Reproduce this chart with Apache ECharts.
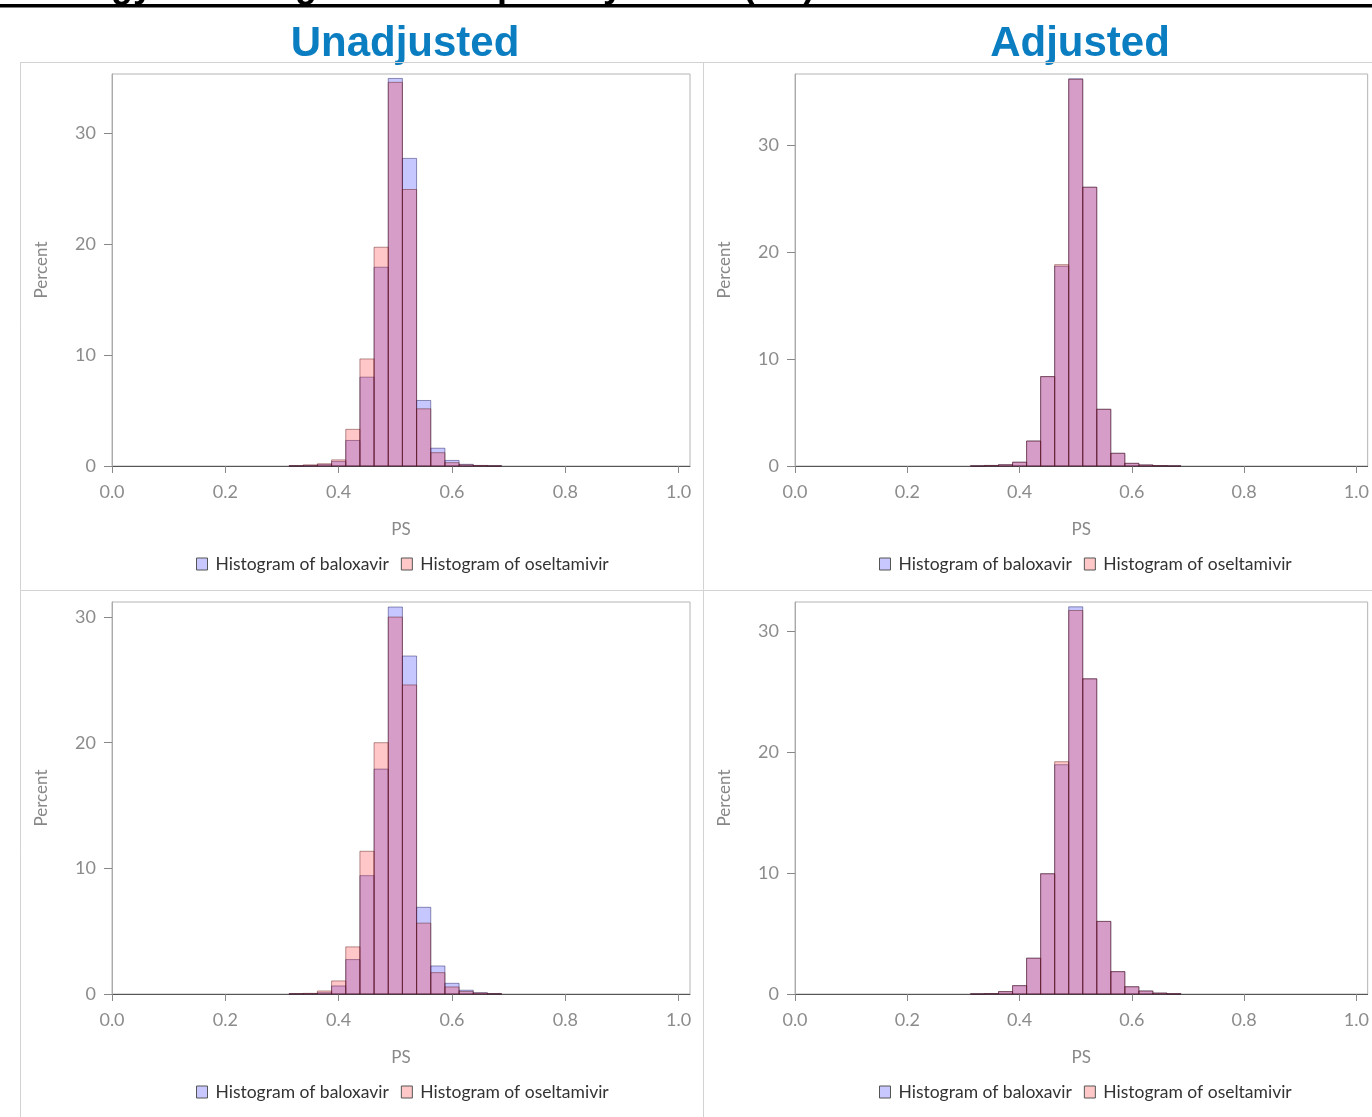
<!DOCTYPE html>
<html>
<head>
<meta charset="utf-8">
<script src="https://cdn.jsdelivr.net/npm/echarts@6/dist/echarts.min.js"></script>
<style>
html,body{margin:0;padding:0;background:#fff;}
#chart{width:1372px;height:1117px;}
</style>
</head>
<body>
<div id="chart"></div>
<script>
// ---- data ----
const binCenters = [0.3, 0.325, 0.35, 0.375, 0.4, 0.425, 0.45, 0.475, 0.5, 0.525, 0.55, 0.575, 0.6, 0.625, 0.65, 0.675, 0.7];
const xTicks = [0, 0.2, 0.4, 0.6, 0.8, 1.0];
const yTicks = [0, 10, 20, 30];
const seriesNames = ['Histogram of baloxavir', 'Histogram of oseltamivir'];
const columnTitles = ['Unadjusted', 'Adjusted'];

// Model 1 (top row)
const m1UnadjBaloxavir   = [0, 0.02, 0.05, 0.12, 0.40, 2.30, 8.00, 17.90, 34.90, 27.70, 5.90, 1.60, 0.50, 0.15, 0.05, 0.02, 0];
const m1UnadjOseltamivir = [0, 0.03, 0.10, 0.20, 0.55, 3.30, 9.64, 19.70, 34.55, 24.90, 5.15, 1.20, 0.30, 0.10, 0.04, 0.01, 0];
const m1AdjBaloxavir     = [0, 0.01, 0.05, 0.12, 0.35, 2.34, 8.37, 18.70, 36.25, 26.10, 5.31, 1.19, 0.25, 0.10, 0.04, 0.01, 0];
const m1AdjOseltamivir   = [0, 0.01, 0.05, 0.12, 0.36, 2.34, 8.37, 18.85, 36.20, 26.10, 5.31, 1.19, 0.25, 0.10, 0.04, 0.01, 0];
// Model 2 (bottom row)
const m2UnadjBaloxavir   = [0, 0.02, 0.03, 0.10, 0.64, 2.74, 9.42, 17.90, 30.80, 26.90, 6.90, 2.23, 0.85, 0.30, 0.10, 0.03, 0];
const m2UnadjOseltamivir = [0, 0.03, 0.05, 0.24, 1.04, 3.75, 11.36, 20.00, 30.00, 24.60, 5.64, 1.70, 0.56, 0.20, 0.08, 0.02, 0];
const m2AdjBaloxavir     = [0, 0.01, 0.03, 0.20, 0.69, 2.96, 9.94, 18.95, 32.00, 26.05, 6.00, 1.85, 0.60, 0.25, 0.08, 0.02, 0];
const m2AdjOseltamivir   = [0, 0.01, 0.03, 0.20, 0.69, 2.96, 9.94, 19.20, 31.70, 26.05, 6.00, 1.85, 0.60, 0.25, 0.08, 0.02, 0];

const binWidth = 0.025;

// ---- layout ----
const panels = [
  {left: 112, top: 74,  yMax: 35.3, b: m1UnadjBaloxavir, o: m1UnadjOseltamivir},
  {left: 795, top: 74,  yMax: 36.7, b: m1AdjBaloxavir,   o: m1AdjOseltamivir},
  {left: 112, top: 602, yMax: 31.2, b: m2UnadjBaloxavir, o: m2UnadjOseltamivir},
  {left: 795, top: 602, yMax: 32.4, b: m2AdjBaloxavir,   o: m2AdjOseltamivir}
];
const gridW = 578, gridH = 392;
const FONT = 'Lato';
const fills = ['rgba(30,30,255,0.25)', 'rgba(255,30,30,0.25)'];
const strokes = ['rgba(20,20,90,0.45)', 'rgba(90,20,20,0.45)'];
const legendFills = ['#c8c8ff', '#ffc8c8'];

function makeRender(idx) {
  return function (params, api) {
    const x = api.value(0), v = api.value(1);
    if (!(v > 0)) return null;
    const p0 = api.coord([x - binWidth / 2, v]);
    const p1 = api.coord([x + binWidth / 2, 0]);
    return {
      type: 'rect',
      shape: {x: p0[0], y: p0[1], width: p1[0] - p0[0], height: p1[1] - p0[1]},
      style: {fill: fills[idx], stroke: strokes[idx], lineWidth: 1}
    };
  };
}

const grid = [], xAxis = [], yAxis = [], series = [], legend = [];
panels.forEach((p, i) => {
  grid.push({left: p.left, top: p.top, width: gridW, height: gridH, show: true,
             borderColor: '#b4b4b4', borderWidth: 1, backgroundColor: 'transparent'});
  xAxis.push({
    type: 'value', gridIndex: i, min: 0, max: 1.02,
    axisLine: {show: true, onZero: false, lineStyle: {color: '#555', width: 1}},
    axisTick: {show: true, length: 7, customValues: xTicks, lineStyle: {color: '#888'}},
    axisLabel: {customValues: xTicks, formatter: v => v.toFixed(1), color: '#8c8c8c',
                fontSize: 18, fontFamily: FONT, margin: 17},
    splitLine: {show: false},
    name: 'PS', nameLocation: 'middle', nameGap: 55,
    nameTextStyle: {color: '#888', fontSize: 17, fontFamily: FONT}
  });
  yAxis.push({
    type: 'value', gridIndex: i, min: 0, max: p.yMax,
    axisLine: {show: true, lineStyle: {color: '#aaa', width: 1}},
    axisTick: {show: true, length: 8, customValues: yTicks, lineStyle: {color: '#888'}},
    axisLabel: {customValues: yTicks, color: '#8c8c8c', fontSize: 18, fontFamily: FONT, margin: 16},
    splitLine: {show: false},
    name: 'Percent', nameLocation: 'middle', nameGap: 62, nameRotate: 90,
    nameTextStyle: {color: '#888', fontSize: 17, fontFamily: FONT}
  });
  [p.b, p.o].forEach((arr, k) => {
    series.push({
      type: 'custom', name: seriesNames[k], xAxisIndex: i, yAxisIndex: i,
      renderItem: makeRender(k),
      encode: {x: 0, y: 1},
      itemStyle: {color: legendFills[k]},
      silent: true,
      data: binCenters.map((c, j) => [c, arr[j]])
    });
  });
  legend.push({
    left: p.left + 84, top: p.top + gridH + 89, padding: 0,
    icon: 'rect', itemWidth: 11, itemHeight: 12, itemGap: 12,
    selectedMode: false,
    textStyle: {color: '#333', fontSize: 17.5, fontFamily: FONT, padding: [0, 0, 0, 3]},
    data: seriesNames.map((n, k) => ({name: n, itemStyle: {color: legendFills[k], borderColor: '#555', borderWidth: 1}}))
  });
});

const border = {stroke: '#d2d2d2', lineWidth: 1};
const graphic = [
  {type: 'text', left: 'center', top: -31, silent: true,
   style: {text: 'Strategy 1: Histogram of Propensity Score (PS) Distribution of Selected Models',
           font: 'bold 36px "Liberation Sans", Arial, sans-serif', fill: '#000'}},
  {type: 'rect', shape: {x: 0, y: 4, width: 1372, height: 3.5}, style: {fill: '#000'}, silent: true},
  {type: 'text', x: 405, y: 44, silent: true,
   style: {text: columnTitles[0], font: 'bold 42px "Liberation Sans", Arial, sans-serif',
           fill: '#0b7dc1', align: 'center', verticalAlign: 'middle'}},
  {type: 'text', x: 1080, y: 44, silent: true,
   style: {text: columnTitles[1], font: 'bold 42px "Liberation Sans", Arial, sans-serif',
           fill: '#0b7dc1', align: 'center', verticalAlign: 'middle'}},
  {type: 'line', shape: {x1: 20, y1: 62.5, x2: 1372, y2: 62.5}, style: border, silent: true},
  {type: 'line', shape: {x1: 20, y1: 590.5, x2: 1372, y2: 590.5}, style: border, silent: true},
  {type: 'line', shape: {x1: 20.5, y1: 62, x2: 20.5, y2: 1117}, style: border, silent: true},
  {type: 'line', shape: {x1: 703.5, y1: 62, x2: 703.5, y2: 1117}, style: border, silent: true}
];

const chart = echarts.init(document.getElementById('chart'), null, {renderer: 'canvas', width: 1372, height: 1117});
chart.setOption({
  backgroundColor: '#fff',
  animation: false,
  grid, xAxis, yAxis, series, legend, graphic
});
</script>
</body>
</html>
